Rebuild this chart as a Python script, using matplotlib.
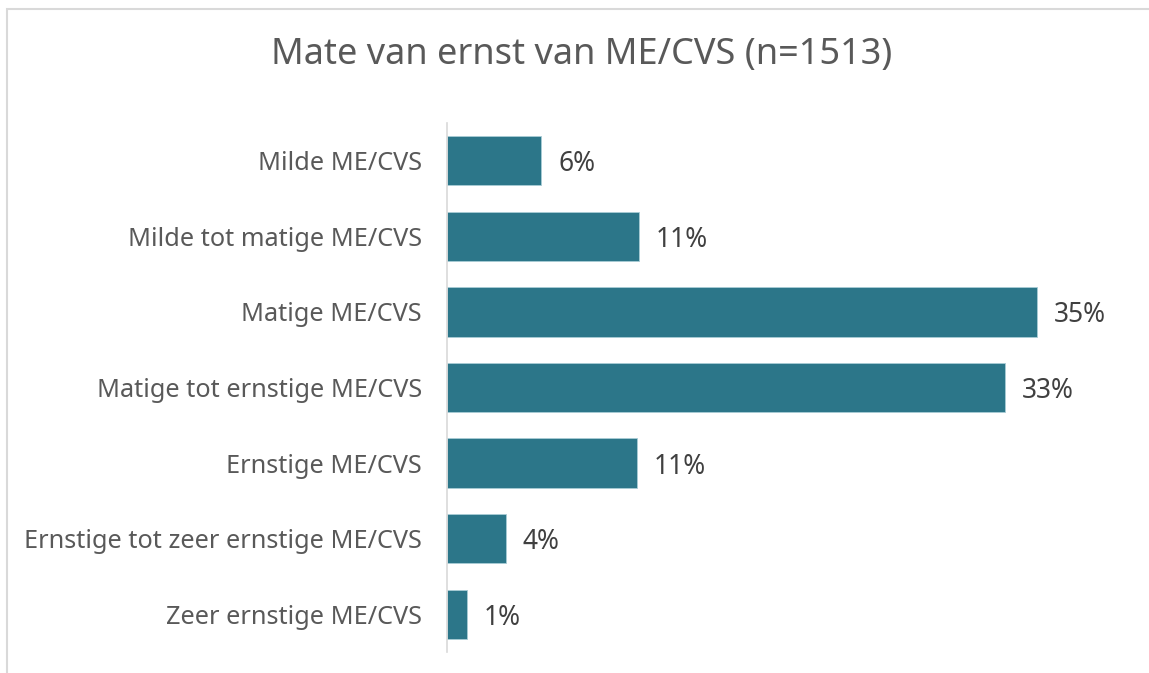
import matplotlib.pyplot as plt
from matplotlib.patches import Rectangle

categories = [
    "Milde ME/CVS",
    "Milde tot matige ME/CVS",
    "Matige ME/CVS",
    "Matige tot ernstige ME/CVS",
    "Ernstige ME/CVS",
    "Ernstige tot zeer ernstige ME/CVS",
    "Zeer ernstige ME/CVS",
]
percentages = [5.6, 11.4, 35.0, 33.1, 11.3, 3.5, 1.2]
pct_labels = ["6%", "11%", "35%", "33%", "11%", "4%", "1%"]
title = "Mate van ernst van ME/CVS (n=1513)"

bar_color = "#2C7689"
text_gray = "#595959"
label_dark = "#404040"

plt.rcParams['font.family'] = ['Noto Sans', 'DejaVu Sans']

W, H = 1149, 673
fig = plt.figure(figsize=(W / 100, H / 100), dpi=100)
fig.patch.set_facecolor("white")

# light border of the original chart frame (cut off at right/bottom)
fig.patches.append(Rectangle((7 / W, -0.1), 1.2, 1 - 9 / H + 0.1,
                             transform=fig.transFigure, fill=False,
                             edgecolor="#D9D9D9", linewidth=1.5))

ax = fig.add_axes([447 / W, 21 / H, 674 / W, 529 / H])
y = list(range(len(categories)))
ax.barh(y, percentages, height=0.652, color=bar_color,
        edgecolor="#A9CCD6", linewidth=0.6)
ax.set_xlim(0, 40)
ax.set_ylim(len(categories) - 0.5, -0.5)

for yi, v, lab in zip(y, percentages, pct_labels):
    ax.annotate(lab, (v, yi), xytext=(12, 0), textcoords="offset points",
                ha="left", va="center_baseline", fontsize=19, color=label_dark)

ax.set_yticks(y)
ax.set_yticklabels(categories, fontsize=18.2, color=text_gray,
                   va="center_baseline")
ax.tick_params(axis="y", length=0, pad=18)
ax.set_xticks([])
for s in ["top", "right", "bottom"]:
    ax.spines[s].set_visible(False)
ax.spines["left"].set_color("#D9D9D9")
ax.spines["left"].set_linewidth(1.2)

fig.text(582 / W, 1 - 55 / H, title, ha="center", va="center",
         fontsize=26, color=text_gray)

fig.savefig("out.png", dpi=100)
